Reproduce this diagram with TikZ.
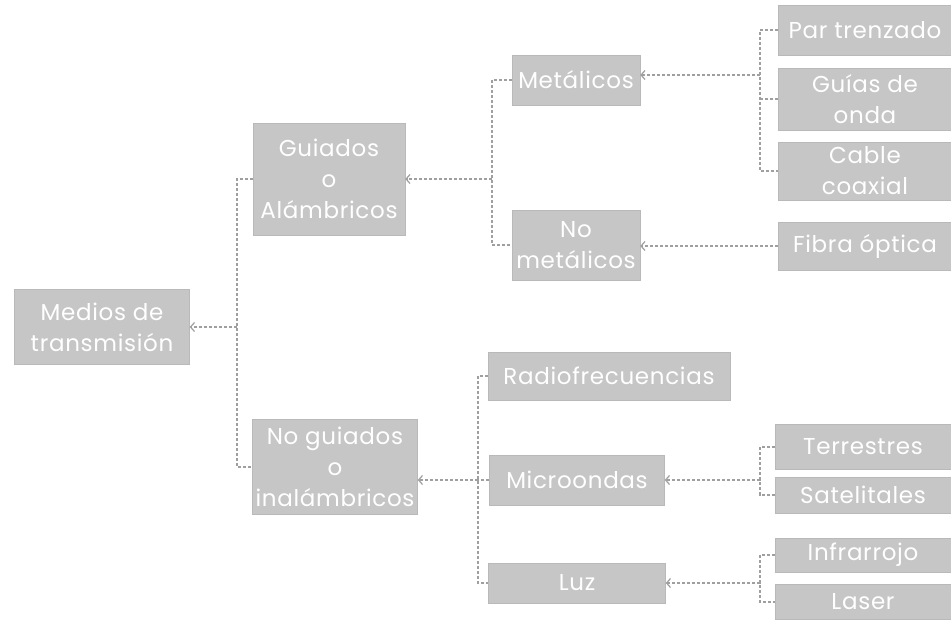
\documentclass[tikz,border=0pt]{standalone}
\usepackage{fontspec}
\setmainfont{Poppins}[LetterSpace=3]
\usetikzlibrary{arrows.meta}
\begin{document}
\begin{tikzpicture}[x=1pt,y=-1pt,
  box/.style={draw=gray!55, fill=gray!45, text=white, font=\fontsize{23}{31}\selectfont, align=center, inner sep=0pt},
  line/.style={draw=gray!75, densely dashed, line width=1.2pt},
  arr/.style={line, -{Straight Barb[length=4pt,width=9pt]}}]
\useasboundingbox (0,0) rectangle (951,626);
\node[box, minimum width=175, minimum height=75] (medios) at (102,327) {Medios de\\transmisión};
\node[box, minimum width=152, minimum height=112] (guiados) at (329,179) {Guiados\\o\\Alámbricos};
\node[box, minimum width=165, minimum height=95] (noguiados) at (335,467) {No guiados\\o\\inalámbricos};
\node[box, minimum width=128, minimum height=50] (metalicos) at (576,80) {Metálicos};
\node[box, minimum width=128, minimum height=70] (nometalicos) at (576,245) {No\\metálicos};
\node[box, minimum width=242, minimum height=48] (radio) at (609,376) {Radiofrecuencias};
\node[box, minimum width=175, minimum height=50] (micro) at (577,480) {Microondas};
\node[box, minimum width=177, minimum height=40] (luz) at (577,583) {Luz};
\node[box, minimum width=173, minimum height=50] (par) at (865,30) {Par trenzado};
\node[box, minimum width=173, minimum height=62] (guias) at (865,99) {Guías de\\onda};
\node[box, minimum width=173, minimum height=58] (cable) at (865,171) {Cable\\coaxial};
\node[box, minimum width=173, minimum height=48] (fibra) at (865,246) {Fibra óptica};
\node[box, minimum width=176, minimum height=45] (terr) at (863,447) {Terrestres};
\node[box, minimum width=176, minimum height=36] (sat) at (863,495) {Satelitales};
\node[box, minimum width=176, minimum height=34] (infra) at (863,555) {Infrarrojo};
\node[box, minimum width=176, minimum height=35] (laser) at (863,602) {Laser};
\coordinate (j1) at (237,327);
\coordinate (j2) at (492,179);
\coordinate (j3) at (478,480);
\coordinate (j4) at (760,75);
\coordinate (j5) at (760,480);
\coordinate (j6) at (760,583);
\draw[line] (guiados.west) -| (j1) |- (noguiados.west);
\draw[arr] (j1) -- (medios.east);
\draw[line] (metalicos.west) -| (j2) |- (nometalicos.west);
\draw[arr] (j2) -- (j2 -| guiados.east);
\draw[line] (radio.west) -| (j3) |- (luz.west);
\draw[line] (micro.west) -- (j3);
\draw[arr] (j3) -- (j3 -| noguiados.east);
\draw[line] (par.west) -| (j4) |- (cable.west);
\draw[line] (guias.west) -- (guias.west -| j4);
\draw[arr] (j4) -- (j4 -| metalicos.east);
\draw[arr] (fibra.west) -- (fibra.west -| nometalicos.east);
\draw[line] (terr.west) -| (j5) |- (sat.west);
\draw[arr] (j5) -- (micro.east);
\draw[line] (infra.west) -| (j6) |- (laser.west);
\draw[arr] (j6) -- (luz.east);
\end{tikzpicture}
\end{document}
